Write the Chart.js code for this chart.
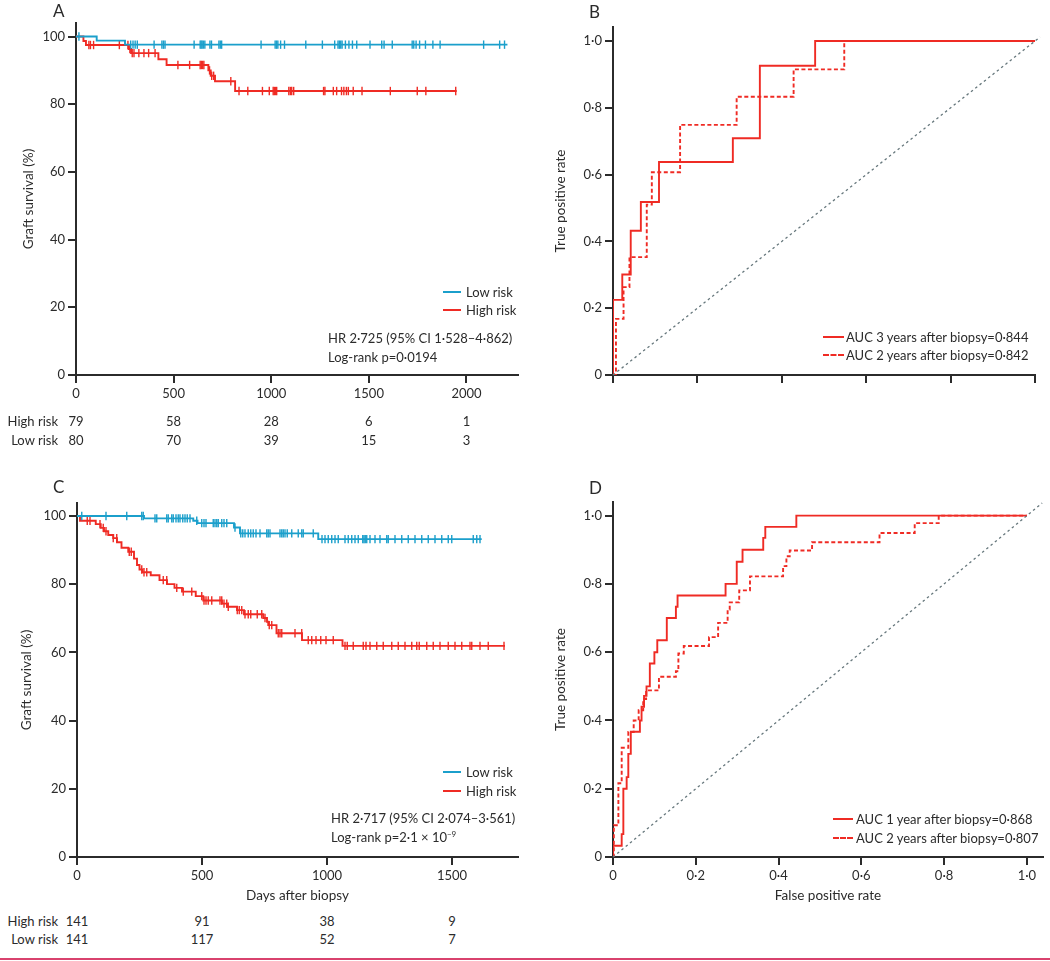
<!DOCTYPE html>
<html>
<head>
<meta charset="utf-8">
<script src="https://cdn.jsdelivr.net/npm/chart.js@4.4.1/dist/chart.umd.min.js"></script>
<style>
  body { margin: 0; background: #fff; width: 1050px; height: 961px; position: relative; overflow: hidden; font-family: Lato, sans-serif; color: #2b2b2b; }
  canvas { position: absolute; }
  .t { position: absolute; font-size: 13px; white-space: nowrap; line-height: 1; transform: translateY(-50%); }
  .c { transform: translate(-50%, -50%); }
  .lab { position: absolute; font-size: 17px; line-height: 1; }
  .sw { position: absolute; height: 0; border-top: 2px solid; transform: translateY(-1px); }
  .sw.dash { border-top-style: dashed; }
  .rl { position: absolute; left: 0; width: 58px; text-align: right; font-size: 13px; line-height: 1; transform: translateY(-50%); }
</style>
</head>
<body>
<canvas id="chartA" width="530" height="410" style="left:0;top:0"></canvas>
<canvas id="chartB" width="510" height="410" style="left:540px;top:0"></canvas>
<canvas id="chartC" width="530" height="420" style="left:0;top:490px"></canvas>
<canvas id="chartD" width="510" height="420" style="left:540px;top:490px"></canvas>

<div class="lab" style="left:53px;top:2px">A</div>
<div class="lab" style="left:589px;top:3px">B</div>
<div class="lab" style="left:53px;top:478px">C</div>
<div class="lab" style="left:589px;top:479px">D</div>

<!-- legends A -->
<div class="sw" style="left:443px;top:292px;width:18px;border-color:#1b9fcb"></div>
<div class="t" style="left:466px;top:292px">Low risk</div>
<div class="sw" style="left:443px;top:310px;width:18px;border-color:#ef2b24"></div>
<div class="t" style="left:466px;top:310px">High risk</div>
<div class="t" style="left:328px;top:338px">HR 2·725 (95% CI 1·528–4·862)</div>
<div class="t" style="left:328px;top:357px">Log-rank p=0·0194</div>

<!-- legends B -->
<div class="sw" style="left:823px;top:337px;width:21px;border-color:#ef2b24"></div>
<div class="t" style="left:846px;top:337px">AUC 3 years after biopsy=0·844</div>
<div class="sw dash" style="left:823px;top:355px;width:21px;border-color:#ef2b24"></div>
<div class="t" style="left:846px;top:355px">AUC 2 years after biopsy=0·842</div>

<!-- legends C -->
<div class="sw" style="left:443px;top:772px;width:18px;border-color:#1b9fcb"></div>
<div class="t" style="left:466px;top:772px">Low risk</div>
<div class="sw" style="left:443px;top:791px;width:18px;border-color:#ef2b24"></div>
<div class="t" style="left:466px;top:791px">High risk</div>
<div class="t" style="left:331px;top:818px">HR 2·717 (95% CI 2·074–3·561)</div>
<div class="t" style="left:331px;top:837px">Log-rank p=2·1 × 10<sup style="font-size:8px">−9</sup></div>

<!-- legends D -->
<div class="sw" style="left:833px;top:819px;width:20px;border-color:#ef2b24"></div>
<div class="t" style="left:856px;top:819px">AUC 1 year after biopsy=0·868</div>
<div class="sw dash" style="left:833px;top:838px;width:20px;border-color:#ef2b24"></div>
<div class="t" style="left:856px;top:838px">AUC 2 years after biopsy=0·807</div>

<div style="position:absolute;left:0;top:958px;width:1050px;height:2px;background:#d9426e"></div>

<script>
// ---- Panel A: Kaplan-Meier, discovery cohort ----
const aTicks = [0, 500, 1000, 1500, 2000];
const aLowTimes = [0, 106, 251, 2210];
const aLowSurv = [100, 98.8, 97.6, 97.6];
const aLowCens = [15, 280, 292, 303, 314, 400, 440, 448, 456, 605, 636, 641, 646, 652, 660, 686, 694, 732, 739, 746, 948, 1020, 1027, 1034, 1048, 1068, 1177, 1262, 1325, 1342, 1349, 1356, 1363, 1380, 1398, 1416, 1438, 1506, 1566, 1578, 1620, 1722, 1730, 1742, 1760, 1790, 1828, 1865, 2088, 2170, 2195];
const aHighTimes = [0, 38, 51, 270, 282, 422, 464, 678, 690, 712, 815, 1950];
const aHighSurv = [100, 98.7, 97.5, 96.3, 95.1, 93.3, 91.6, 90.0, 88.4, 86.8, 83.9, 83.9];
const aHighCens = [66, 74, 90, 222, 266, 276, 288, 297, 322, 348, 372, 405, 522, 582, 636, 642, 648, 655, 684, 695, 705, 793, 835, 880, 955, 990, 1010, 1016, 1022, 1028, 1090, 1098, 1105, 1115, 1268, 1275, 1318, 1335, 1360, 1372, 1385, 1395, 1420, 1465, 1610, 1748, 1792, 1945];
const aRiskHigh = [79, 58, 28, 6, 1];
const aRiskLow = [80, 70, 39, 15, 3];

// ---- Panel B: ROC, discovery cohort ----
const bFpr3 = [0, 0, 0.022, 0.042, 0.066, 0.109, 0.284, 0.348, 0.479, 1.0];
const bTpr3 = [0, 0.225, 0.301, 0.432, 0.518, 0.638, 0.709, 0.926, 1.0, 1.0];
const bFpr2 = [0, 0.007, 0.025, 0.039, 0.080, 0.092, 0.159, 0.293, 0.428, 0.548, 1.0];
const bTpr2 = [0, 0.168, 0.263, 0.353, 0.510, 0.607, 0.749, 0.833, 0.915, 1.0, 1.0];
const bDiag = [0, 1.012];

// ---- Panel C: Kaplan-Meier, validation cohort ----
const cTicks = [0, 500, 1000, 1500];
const cLowTimes = [0, 268, 465, 482, 628, 652, 965, 1619];
const cLowSurv = [100, 99.3, 98.6, 97.9, 96.6, 94.9, 93.2, 93.2];
const cLowCens = [19, 116, 199, 259, 265, 312, 319, 359, 365, 379, 385, 396, 405, 412, 423, 432, 441, 452, 479, 499, 508, 516, 545, 552, 559, 565, 579, 588, 599, 632, 655, 663, 672, 685, 695, 705, 716, 732, 759, 765, 772, 812, 819, 825, 832, 841, 859, 885, 899, 905, 945, 980, 992, 1005, 1019, 1032, 1045, 1072, 1085, 1099, 1112, 1125, 1143, 1148, 1153, 1159, 1172, 1192, 1212, 1239, 1245, 1272, 1299, 1325, 1352, 1379, 1405, 1432, 1459, 1485, 1499, 1585, 1599, 1612];
const cHighTimes = [0, 12, 75, 95, 108, 125, 145, 160, 178, 205, 228, 240, 250, 262, 295, 330, 360, 390, 420, 475, 505, 580, 600, 640, 668, 745, 760, 765, 798, 900, 1062, 1712];
const cHighSurv = [100, 98.6, 97.6, 96.5, 95.5, 94.4, 93.5, 92.3, 90.7, 89.5, 87.5, 85.6, 84.3, 83.5, 82.6, 81.2, 80.0, 78.9, 77.8, 76.5, 75.2, 74.3, 73.4, 72.4, 71.2, 70.1, 69.0, 68.0, 65.6, 63.6, 61.9, 61.9];
const cHighCens = [41, 52, 92, 105, 116, 145, 159, 209, 217, 259, 268, 279, 345, 359, 399, 425, 459, 499, 508, 516, 525, 539, 572, 579, 588, 599, 605, 641, 649, 659, 672, 685, 695, 721, 739, 752, 769, 779, 805, 812, 819, 872, 899, 925, 939, 956, 975, 996, 1025, 1072, 1081, 1105, 1145, 1156, 1172, 1199, 1225, 1259, 1285, 1312, 1339, 1359, 1369, 1399, 1425, 1452, 1485, 1512, 1539, 1572, 1579, 1612, 1645, 1708];
const cRiskHigh = [141, 91, 38, 9];
const cRiskLow = [141, 117, 52, 7];

// ---- Panel D: ROC, validation cohort ----
const dFpr1 = [0, 0, 0.021, 0.025, 0.033, 0.037, 0.043, 0.065, 0.069, 0.075, 0.081, 0.089, 0.100, 0.107, 0.130, 0.152, 0.156, 0.272, 0.299, 0.313, 0.363, 0.368, 0.443, 1.0];
const dTpr1 = [0, 0.033, 0.067, 0.200, 0.234, 0.302, 0.367, 0.400, 0.440, 0.472, 0.500, 0.567, 0.600, 0.635, 0.700, 0.733, 0.766, 0.800, 0.865, 0.900, 0.935, 0.967, 1.0, 1.0];
const dFpr2 = [0, 0.002, 0.013, 0.021, 0.037, 0.050, 0.062, 0.073, 0.080, 0.111, 0.152, 0.158, 0.171, 0.232, 0.254, 0.277, 0.282, 0.305, 0.331, 0.411, 0.419, 0.427, 0.481, 0.644, 0.729, 0.787, 1.0];
const dTpr2 = [0, 0.093, 0.216, 0.320, 0.366, 0.400, 0.430, 0.463, 0.488, 0.528, 0.544, 0.596, 0.618, 0.644, 0.686, 0.725, 0.746, 0.781, 0.822, 0.852, 0.881, 0.898, 0.922, 0.949, 0.978, 1.0, 1.0];
const dDiag = [0, 1.037];

const BLUE = '#1b9fcb';
const RED = '#ef2b24';
const AXIS = '#2b2b2b';

Chart.defaults.font.family = 'Lato, sans-serif';
Chart.defaults.font.size = 13;
Chart.defaults.color = '#2b2b2b';

// survival value at time t (last step at or before t)
function survAt(times, vals, t) {
  let v = vals[0];
  for (let i = 0; i < times.length; i++) {
    if (times[i] <= t) v = vals[i];
  }
  return v;
}

const pts = (xs, ys) => xs.map((x, i) => ({ x: x, y: ys[i] }));
const dotFmt = v => v === 0 ? '0' : v.toFixed(1).replace('.', '\u00b7');

function stepLine(xs, ys, color, dash) {
  return {
    data: pts(xs, ys), showLine: true, stepped: true, borderColor: color, borderWidth: 1.9,
    borderDash: dash || [], pointRadius: 0, fill: false
  };
}
function censMarks(cens, times, vals, color) {
  return {
    data: cens.map(t => ({ x: t, y: survAt(times, vals, t) })), showLine: false,
    pointStyle: 'line', pointRotation: 90, pointRadius: 4.2, pointBorderWidth: 1.4,
    pointBorderColor: color, pointBackgroundColor: color
  };
}
function diagLine(ends) {
  return {
    data: pts(ends, ends), showLine: true, borderColor: '#66777c', borderWidth: 1.3,
    borderDash: [2.5, 3], pointRadius: 0, clip: false
  };
}

// tickList: fixed tick values (the survival axes), otherwise step based ticks
function axisX(max, step, h, showLabels, title, fmt, titlePad, tickList) {
  const ax = {
    type: 'linear', min: 0, max: max,
    afterFit: s => { s.height = h; },
    grid: { drawOnChartArea: false, drawTicks: true, tickLength: 8, color: AXIS, lineWidth: 2 },
    border: { display: true, color: AXIS, width: 2 },
    ticks: { stepSize: step, includeBounds: false, padding: 3, display: showLabels, callback: fmt, maxRotation: 0, autoSkip: false },
    title: { display: !!title, text: title || '', font: { size: 13.5 }, padding: { top: 0, bottom: titlePad || 0 } }
  };
  if (tickList) ax.afterBuildTicks = s => { s.ticks = tickList.map(v => ({ value: v })); };
  return ax;
}
function axisY(max, step, w, title, titlePad, fmt) {
  return {
    type: 'linear', min: 0, max: max,
    afterFit: s => { s.width = w; },
    grid: { drawOnChartArea: false, drawTicks: true, tickLength: 8, color: AXIS, lineWidth: 2 },
    border: { display: true, color: AXIS, width: 2 },
    ticks: { stepSize: step, includeBounds: false, padding: 3, callback: fmt },
    title: { display: true, text: title, font: { size: 13.5 }, padding: { top: titlePad, bottom: 0 } }
  };
}
function baseOptions(padding, x, y) {
  return {
    responsive: false, animation: false, events: [],
    layout: { padding: padding },
    plugins: { legend: { display: false }, tooltip: { enabled: false } },
    scales: { x: x, y: y }
  };
}

const chartA = new Chart(document.getElementById('chartA'), {
  type: 'scatter',
  data: {
    datasets: [
      stepLine(aLowTimes, aLowSurv, BLUE),
      censMarks(aLowCens, aLowTimes, aLowSurv, BLUE),
      stepLine(aHighTimes, aHighSurv, RED),
      censMarks(aHighCens, aHighTimes, aHighSurv, RED)
    ]
  },
  options: baseOptions({ top: 23, right: 12, left: 0, bottom: 0 },
    axisX(2264, 500, 35, true, null, v => v, 0, aTicks),
    axisY(104, 20, 76, 'Graft survival (%)', 21, v => v))
});

const chartB = new Chart(document.getElementById('chartB'), {
  type: 'scatter',
  data: {
    datasets: [
      diagLine(bDiag),
      stepLine(bFpr3, bTpr3, RED),
      stepLine(bFpr2, bTpr2, RED, [4, 2.5])
    ]
  },
  options: baseOptions({ top: 27, right: 15, left: 0, bottom: 0 },
    axisX(1.0, 0.2, 35, false, null, dotFmt),
    axisY(1.042, 0.2, 73, 'True positive rate', 13, dotFmt))
});

const chartC = new Chart(document.getElementById('chartC'), {
  type: 'scatter',
  data: {
    datasets: [
      stepLine(cLowTimes, cLowSurv, BLUE),
      censMarks(cLowCens, cLowTimes, cLowSurv, BLUE),
      stepLine(cHighTimes, cHighSurv, RED),
      censMarks(cHighCens, cHighTimes, cHighSurv, RED)
    ]
  },
  options: baseOptions({ top: 13, right: 12, left: 0, bottom: 0 },
    axisX(1764, 500, 53, true, 'Days after biopsy', v => v, 6, cTicks),
    axisY(103.8, 20, 77, 'Graft survival (%)', 19, v => v))
});

const chartD = new Chart(document.getElementById('chartD'), {
  type: 'scatter',
  data: {
    datasets: [
      diagLine(dDiag),
      stepLine(dFpr1, dTpr1, RED),
      stepLine(dFpr2, dTpr2, RED, [4, 2.5])
    ]
  },
  options: baseOptions({ top: 12, right: 7, left: 0, bottom: 0 },
    axisX(1.039, 0.2, 53, true, 'False positive rate', dotFmt, 6),
    axisY(1.04, 0.2, 73, 'True positive rate', 13, dotFmt))
});

// numbers at risk, placed under the x ticks of each survival chart
function riskRow(chart, left, ticks, counts, label, y) {
  const l = document.createElement('div');
  l.className = 'rl';
  l.style.top = y + 'px';
  l.textContent = label;
  document.body.appendChild(l);
  ticks.forEach((t, i) => {
    const d = document.createElement('div');
    d.className = 't c';
    d.style.left = (left + chart.scales.x.getPixelForValue(t)) + 'px';
    d.style.top = y + 'px';
    d.textContent = counts[i];
    document.body.appendChild(d);
  });
}
riskRow(chartA, 0, aTicks, aRiskHigh, 'High risk', 421);
riskRow(chartA, 0, aTicks, aRiskLow, 'Low risk', 440);
riskRow(chartC, 0, cTicks, cRiskHigh, 'High risk', 921);
riskRow(chartC, 0, cTicks, cRiskLow, 'Low risk', 939);
</script>
</body>
</html>
